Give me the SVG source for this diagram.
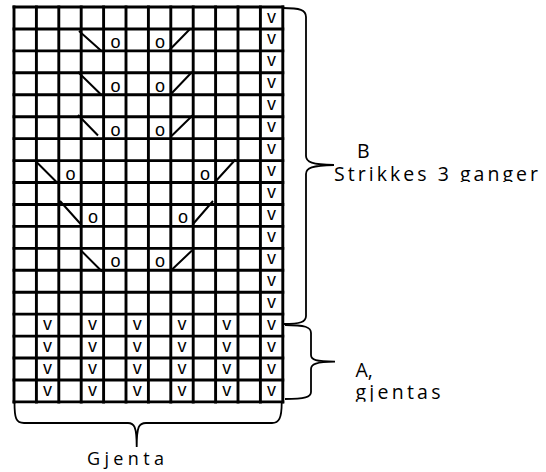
<svg xmlns="http://www.w3.org/2000/svg" width="546" height="472" viewBox="0 0 546 472">
<style>
.grid{stroke:#000;stroke-width:2.9;fill:none;stroke-linecap:square}
.diag{stroke:#000;stroke-width:2;fill:none}
.brace{stroke:#000;stroke-width:1.8;fill:none}
.sym{font-family:"Liberation Sans",Arial,sans-serif;font-size:18px;fill:#000;text-anchor:middle}
.lbl{font-family:"Open Sans","Liberation Sans",sans-serif;font-size:19.5px;fill:#000}
</style>
<defs>
<clipPath id="clipB"><rect x="320" y="130" width="226" height="52"/></clipPath>
<clipPath id="clipA"><rect x="340" y="350" width="150" height="51.7"/></clipPath>
</defs>
<rect width="546" height="472" fill="#fff"/>
<g id="grid">
<path class="grid" d="M14,7V402M36.4,7V402M58.8,7V402M81.2,7V402M103.6,7V402M126,7V402M148.4,7V402M170.8,7V402M193.2,7V402M215.6,7V402M238,7V402M260.4,7V402M282.8,7V402"/>
<path class="grid" d="M14,7H282.8M14,28.94H282.8M14,50.88H282.8M14,72.82H282.8M14,94.76H282.8M14,116.7H282.8M14,138.64H282.8M14,160.58H282.8M14,182.52H282.8M14,204.46H282.8M14,226.4H282.8M14,248.34H282.8M14,270.28H282.8M14,292.22H282.8M14,314.16H282.8M14,336.1H282.8M14,358.04H282.8M14,379.98H282.8M14,401.92H282.8"/>
</g>
<g id="slip-column">
<text class="sym" x="271.6" y="22.5">v</text>
<text class="sym" x="271.6" y="44.4">v</text>
<text class="sym" x="271.6" y="66.4">v</text>
<text class="sym" x="271.6" y="88.3">v</text>
<text class="sym" x="271.6" y="110.2">v</text>
<text class="sym" x="271.6" y="132.2">v</text>
<text class="sym" x="271.6" y="154.1">v</text>
<text class="sym" x="271.6" y="176.1">v</text>
<text class="sym" x="271.6" y="198">v</text>
<text class="sym" x="271.6" y="219.9">v</text>
<text class="sym" x="271.6" y="241.9">v</text>
<text class="sym" x="271.6" y="263.8">v</text>
<text class="sym" x="271.6" y="285.8">v</text>
<text class="sym" x="271.6" y="307.7">v</text>
</g>
<g id="section-A">
<text class="sym" x="47.6" y="329.6">v</text><text class="sym" x="92.4" y="329.6">v</text><text class="sym" x="137.2" y="329.6">v</text><text class="sym" x="182" y="329.6">v</text><text class="sym" x="226.8" y="329.6">v</text><text class="sym" x="271.6" y="329.6">v</text>
<text class="sym" x="47.6" y="351.6">v</text><text class="sym" x="92.4" y="351.6">v</text><text class="sym" x="137.2" y="351.6">v</text><text class="sym" x="182" y="351.6">v</text><text class="sym" x="226.8" y="351.6">v</text><text class="sym" x="271.6" y="351.6">v</text>
<text class="sym" x="47.6" y="373.5">v</text><text class="sym" x="92.4" y="373.5">v</text><text class="sym" x="137.2" y="373.5">v</text><text class="sym" x="182" y="373.5">v</text><text class="sym" x="226.8" y="373.5">v</text><text class="sym" x="271.6" y="373.5">v</text>
<text class="sym" x="47.6" y="395.5">v</text><text class="sym" x="92.4" y="395.5">v</text><text class="sym" x="137.2" y="395.5">v</text><text class="sym" x="182" y="395.5">v</text><text class="sym" x="226.8" y="395.5">v</text><text class="sym" x="271.6" y="395.5">v</text>
</g>
<g id="lace">
<path class="diag" d="M79,31L102,51.5M78,72L101.5,95M78,115L98,135.5M35.5,161L57,182.5M60,201L81.5,225M81.5,251L102,271.5"/>
<path class="diag" d="M169,50.5L190.5,28.5M170.5,94.5L192,72M171.5,136L193,115M215,182L235.5,159.5M193.5,223.5L213,201M171.5,270L192,250.5"/>
<text class="sym" x="115.5" y="47.8">o</text><text class="sym" x="160" y="47.8">o</text>
<text class="sym" x="115.5" y="91.7">o</text><text class="sym" x="160" y="91.7">o</text>
<text class="sym" x="115.5" y="135.6">o</text><text class="sym" x="160" y="135.6">o</text>
<text class="sym" x="70.5" y="179.5">o</text><text class="sym" x="205" y="179.5">o</text>
<text class="sym" x="93" y="223.3">o</text><text class="sym" x="183" y="223.3">o</text>
<text class="sym" x="115.5" y="267.2">o</text><text class="sym" x="160" y="267.2">o</text>
</g>
<g id="connectors">
<path class="brace" d="M283,8C300,8 306,10 306,17L306,156C306,162 312,164.5 334,165C312,165.5 306,168 306,174L306,316C306,322 300,324 284,324"/>
<path class="brace" d="M285,325C305,325 311,327 311,333L311,355C311,360 316,361.5 335,361.7C316,362 311,364 311,369L311,392C311,397 305,399 285,399"/>
<path class="brace" d="M14.5,403C14.5,418 16,423 24,423L128,423C134,423 136.7,426 136.7,447C136.7,426 139,423 146,423L272,423C279,423 281.7,418 281.7,403"/>
</g>
<g id="labels">
<text class="lbl" x="357" y="158.3">B</text>
<text class="lbl" x="334" y="181" textLength="204" lengthAdjust="spacing" clip-path="url(#clipB)">Strikkes 3 ganger</text>
<text class="lbl" x="355.5" y="377">A,</text>
<text class="lbl" x="355.5" y="399" textLength="85" lengthAdjust="spacing" clip-path="url(#clipA)">gjentas</text>
<text class="lbl" x="87" y="465" textLength="77" lengthAdjust="spacing" style="font-size:18px">Gjenta</text>
</g>
</svg>
